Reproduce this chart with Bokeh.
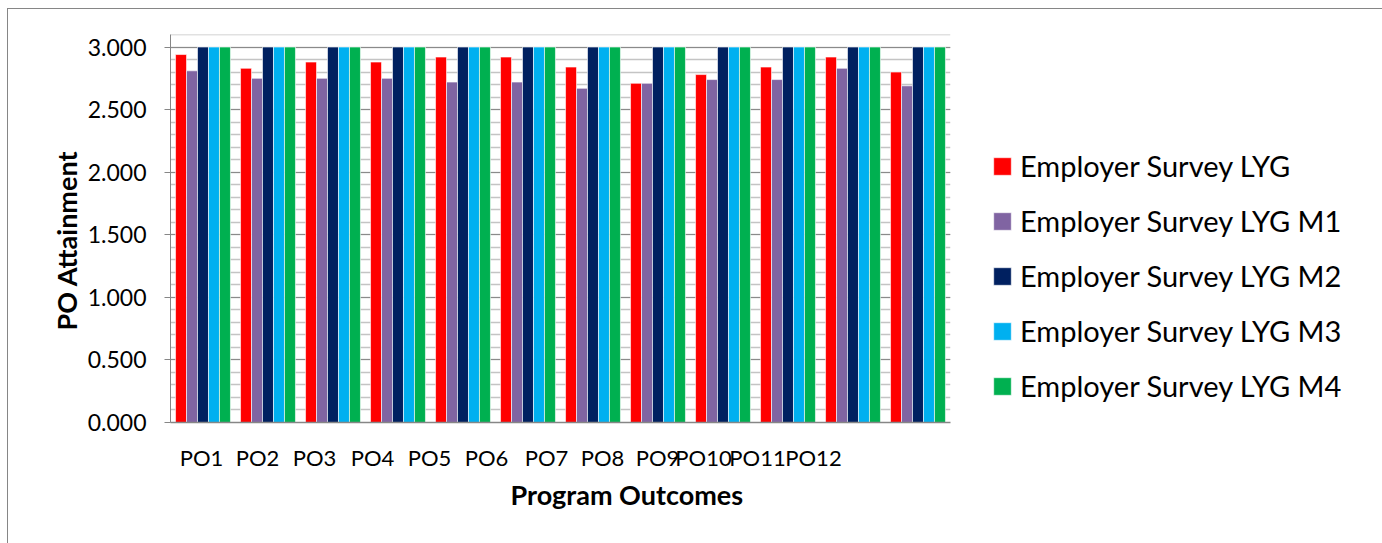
import numpy as np
from bokeh.plotting import figure
from bokeh.models import (ColumnDataSource, Legend, LegendItem, FixedTicker, SingleIntervalTicker,
                          NumeralTickFormatter, Range1d, Title)
from bokeh.embed import file_html
from bokeh.resources import INLINE

# ---- data ----
categories = ["PO1", "PO2", "PO3", "PO4", "PO5", "PO6", "PO7", "PO8", "PO9", "PO10", "PO11", "PO12"]
series_names = ["Employer Survey LYG", "Employer Survey LYG M1", "Employer Survey LYG M2",
                "Employer Survey LYG M3", "Employer Survey LYG M4"]
lyg = [2.94, 2.83, 2.88, 2.88, 2.92, 2.92, 2.84, 2.71, 2.78, 2.84, 2.92, 2.80]
lyg_m1 = [2.81, 2.75, 2.75, 2.75, 2.72, 2.72, 2.67, 2.71, 2.74, 2.74, 2.83, 2.69]
lyg_m2 = [3.0] * 12
lyg_m3 = [3.0] * 12
lyg_m4 = [3.0] * 12
series_values = [lyg, lyg_m1, lyg_m2, lyg_m3, lyg_m4]

# ---- style / layout ----
colors = ["#FF0000", "#8064A2", "#002060", "#00B0F0", "#00B050"]
bar_w = 0.169
# positions (in category slots) where the crowded x labels sit
label_pos = [0.477, 1.338, 2.215, 3.108, 3.985, 4.862, 5.785, 6.646, 7.492, 8.2, 9.031, 9.892]
FONT = "Lato"
FL, FT = 162, 25
FW, FH = 780, 388

p = figure(frame_width=FW, frame_height=FH, output_backend="svg", toolbar_location=None,
           x_range=Range1d(0, len(categories)), y_range=Range1d(0, 3.1001),
           min_border_left=FL, min_border_right=0, min_border_top=FT,
           min_border_bottom=121)
p.styles = {"margin-left": "7px", "margin-top": "8px",
            "border-left": "1px solid #868686", "border-top": "1px solid #868686",
            "border-right": "1px solid #868686"}
p.outline_line_color = None
p.background_fill_color = "white"
p.border_fill_color = "white"

n = len(series_names)
renderers = []
for k in range(n):
    xs = np.arange(len(categories)) + 0.5 + (k - (n - 1) / 2) * bar_w
    src = ColumnDataSource(dict(x=xs, top=series_values[k]))
    r = p.vbar(x="x", top="top", width=bar_w, bottom=0, source=src,
               fill_color=colors[k], line_color="white", line_width=0.6)
    renderers.append(r)

# y axis
p.yaxis.ticker = SingleIntervalTicker(interval=0.5, num_minor_ticks=5)
p.yaxis.formatter = NumeralTickFormatter(format="0.000")
p.yaxis.axis_line_color = "#868686"
p.yaxis.major_tick_line_color = "#868686"
p.yaxis.major_tick_out = 6
p.yaxis.major_tick_in = 0
p.yaxis.minor_tick_line_color = None
p.yaxis.major_label_text_font = FONT
p.yaxis.major_label_text_font_size = "23px"
p.yaxis.major_label_text_color = "black"
p.yaxis.major_label_standoff = 18

# y axis title (slightly below frame centre, as in the reference)
p.add_layout(Title(text="PO Attainment", align="left", offset=92, standoff=3,
                   text_font=FONT, text_font_size="27px", text_font_style="bold",
                   text_color="black"), "left")

# grid
p.ygrid.grid_line_color = "#8A8A8A"
p.ygrid.grid_line_width = 1.2
p.ygrid.minor_grid_line_color = "#C4C4C4"
p.ygrid.minor_grid_line_width = 1.5
p.xgrid.grid_line_color = None

# x axis
p.xaxis.ticker = FixedTicker(ticks=label_pos)
p.xaxis.major_label_overrides = {pos: lab for pos, lab in zip(label_pos, categories)}
p.xaxis.axis_line_color = "#868686"
p.xaxis.axis_line_width = 1.5
p.xaxis.major_tick_line_color = None
p.xaxis.minor_tick_line_color = None
p.xaxis.major_label_text_font = FONT
p.xaxis.major_label_text_font_size = "22px"
p.xaxis.major_label_text_color = "black"
p.xaxis.major_label_standoff = 15

# x axis title (offset to the right, as in the reference)
p.add_layout(Title(text="Program Outcomes", align="left", offset=340, standoff=4,
                   text_font=FONT, text_font_size="27px", text_font_style="bold",
                   text_color="black"), "below")

# legend
legend = Legend(items=[LegendItem(label=series_names[k], renderers=[renderers[k]]) for k in range(n)],
                location=(41, 19), orientation="vertical")
legend.border_line_color = None
legend.background_fill_alpha = 0
legend.padding = 0
legend.margin = 0
legend.glyph_width = 22
legend.glyph_height = 22
legend.label_height = 30
legend.spacing = 20
legend.label_standoff = 7
legend.label_text_font = FONT
legend.label_text_font_size = "29px"
legend.label_text_color = "black"
p.add_layout(legend, "right")

open("out.html", "w").write(file_html(p, INLINE))
